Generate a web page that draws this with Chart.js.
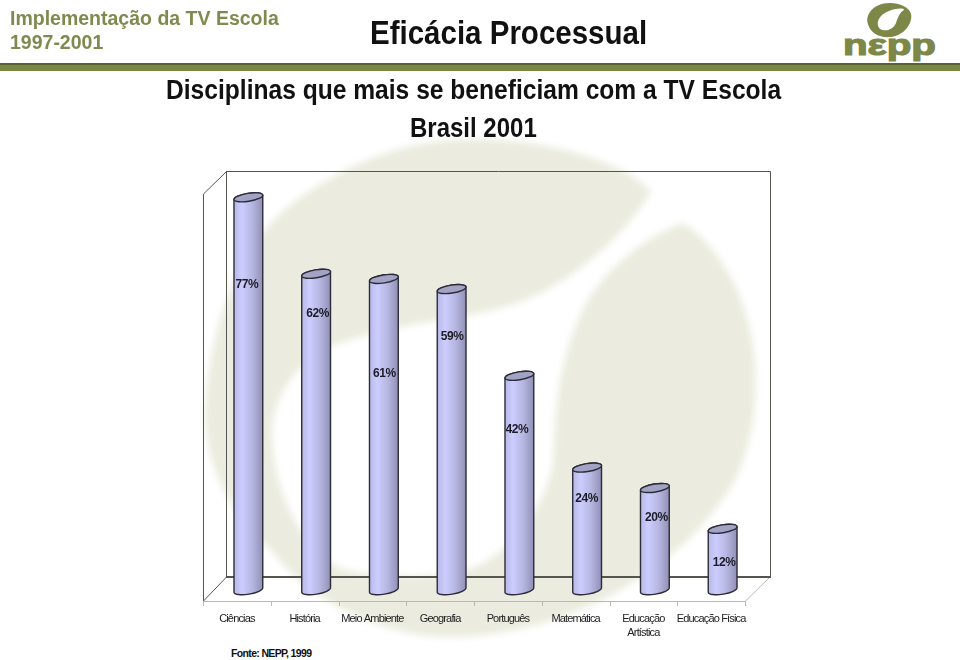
<!DOCTYPE html>
<html lang="pt">
<head>
<meta charset="utf-8">
<title>Eficácia Processual</title>
<script src="https://cdn.jsdelivr.net/npm/chart.js@4"></script>
<style>
html,body{margin:0;padding:0;background:#fff;}
#stage{position:relative;width:960px;height:660px;overflow:hidden;font-family:"Liberation Sans",Arial,sans-serif;}
#stage svg{position:absolute;left:0;top:0;}
#stage canvas{position:absolute;left:0;top:0;}
.t{position:absolute;white-space:nowrap;font-weight:bold;line-height:1;transform-origin:left center;}
.o{color:#7f8a4e;font-size:19.5px;left:10px;transform:scaleY(1.08);}
#rule{position:absolute;left:0;top:63px;width:960px;height:8px;background:#7b8845;border-top:2px solid #59632d;box-sizing:border-box;}
</style>
</head>
<body>
<div id="stage">
<svg width="960" height="660" viewBox="0 0 960 660">
  <defs>
    <filter id="soft" x="-5%" y="-5%" width="110%" height="110%"><feGaussianBlur stdDeviation="3.5"/></filter>
  </defs>
  <path filter="url(#soft)" fill="#ebecdf" d="M651 192 C630 165 555 139 472 139 C410 139 350 160 290 205 C240 245 210 320 205 413 C205 470 235 520 272 551 C300 590 370 637 450 637 C560 637 680 575 735 480 C760 430 765 350 735 285 C720 255 700 232 682 223 C640 240 605 270 585 305 C555 365 555 420 553 465 C540 520 505 555 472 568 C430 580 375 578 339 568 C300 545 272 490 272 430 C275 385 310 350 347 341 C400 322 470 320 517 303 C570 285 625 235 651 192 Z"/>
  <path fill="#7c8748" fill-rule="evenodd" d="M890 3 C872 3 865 16 868 24 C870 33 880 38 890 37 C905 36 913 22 911 14 C909 7 900 3 890 3 Z M889 11 C897 8 904 8 904 10 C900 12 898 17 896 23 C893 30 885 32 880 29 C875 24 878 15 889 11 Z"/>
  <text x="843" y="55" fill="#7c8748" stroke="#7c8748" stroke-width="1.2" font-family="Liberation Sans" font-weight="bold" font-size="30" textLength="93" lengthAdjust="spacingAndGlyphs">nεpp</text>
</svg>
<div class="t o" style="top:8px;">Implementação da TV Escola</div>
<div class="t o" style="top:32px;">1997-2001</div>
<div class="t" style="left:370px;top:18px;font-size:29.5px;color:#111;transform:scaleY(1.1);">Eficácia Processual</div>
<div id="rule"></div>
<div class="t" style="left:166px;top:78px;font-size:24.6px;color:#111;transform:scaleY(1.14);">Disciplinas que mais se beneficiam com a TV Escola</div>
<div class="t" style="left:410px;top:116px;font-size:24px;color:#111;transform:scaleY(1.14);">Brasil 2001</div>
<div class="t" style="left:231px;top:648px;font-size:10.5px;letter-spacing:-.65px;color:#111;">Fonte: NEPP, 1999</div>
<canvas id="c" width="960" height="660"></canvas>
</div>
<script>
const categories = ["Ciências","História","Meio Ambiente","Geografia","Português","Matemática",["Educação","Artística"],"Educação Física"];
const values = [77,62,61,59,42,24,20,12];
const valueLabels = ["77%","62%","61%","59%","42%","24%","20%","12%"];

// label placement relative to each bar top (style only)
const labelDrop = [87,39.5,94.5,48,53.5,31.5,29.5,34];
const labelShift = [-1,2,1,1,-2,0,2,2];

function cylinderDraw(ctx){
  const x=this.x+.5, y=this.y, b=this.base, rx=this.width/2;
  const rot=-9*Math.PI/180, dx=rx*Math.cos(rot), dy=rx*Math.sin(rot);
  const g=ctx.createLinearGradient(x-rx,0,x+rx,0);
  g.addColorStop(0,"#b9b9e6");
  g.addColorStop(.28,"#ccccff");
  g.addColorStop(.62,"#b7b7e2");
  g.addColorStop(1,"#8f8fb6");
  ctx.save();
  ctx.beginPath();
  ctx.moveTo(x-dx,y-dy);
  ctx.lineTo(x-dx,b-dy);
  ctx.ellipse(x,b,rx,4.2,rot,Math.PI,0,true);
  ctx.lineTo(x+dx,y+dy);
  ctx.ellipse(x,y,rx,4,rot,0,Math.PI,true);
  ctx.closePath();
  ctx.fillStyle=g; ctx.fill();
  ctx.strokeStyle="#2c2c38"; ctx.lineWidth=1.4; ctx.stroke();
  ctx.beginPath();
  ctx.ellipse(x,y,rx,4,rot,0,2*Math.PI);
  ctx.fillStyle="#a3a3c6"; ctx.fill(); ctx.stroke();
  ctx.restore();
}

const frame3d = {
  id:"frame3d",
  beforeDraw(chart){ chart.ctx.letterSpacing="-0.85px"; },
  beforeDatasetsDraw(chart){
    const c=chart.ctx, a=chart.chartArea, bw=a.width/8;
    const fl=a.left-11, fr=a.right-11, fb=a.bottom+11, bl=a.left+12, br=a.right+14, bb=a.bottom-13, bt=a.top-11, ft=a.top+12;
    c.save(); c.letterSpacing="0px";
    c.lineCap="butt";
    c.strokeStyle="#b9b9b4"; c.lineWidth=1;
    c.beginPath();
    c.moveTo(fl,fb+.5); c.lineTo(fr,fb+.5); c.lineTo(br,bb);
    for(let i=0;i<=8;i++){ const px=Math.round(fl+i*bw)+.5; c.moveTo(px,fb); c.lineTo(px,fb+5); }
    c.stroke();
    c.strokeStyle="#55554f"; c.lineWidth=1;
    c.beginPath();
    c.moveTo(fl+.5,fb); c.lineTo(fl+.5,ft); c.lineTo(bl+.5,bt+.5); c.lineTo(br+.5,bt+.5); c.lineTo(br+.5,bb);
    c.moveTo(bl+.5,bt); c.lineTo(bl+.5,bb);
    c.moveTo(fl+.5,fb); c.lineTo(bl+.5,bb);
    c.stroke();
    c.lineWidth=2;
    c.beginPath(); c.moveTo(bl,bb); c.lineTo(br+1,bb); c.stroke();
    c.restore();
    chart.getDatasetMeta(0).data.forEach(el=>{ el.draw=cylinderDraw; });
  },
  afterDatasetsDraw(chart){
    const c=chart.ctx;
    c.save();
    c.font='bold 12px "Liberation Sans"';
    c.letterSpacing="-0.5px";
    c.fillStyle="#1c1c28";
    c.textAlign="center"; c.textBaseline="middle";
    chart.getDatasetMeta(0).data.forEach((el,i)=>{
      c.fillText(valueLabels[i],el.x+labelShift[i],el.y+labelDrop[i]);
    });
    c.restore();
  }
};

new Chart(document.getElementById("c"),{
  type:"bar",
  data:{labels:categories,datasets:[{data:values,backgroundColor:"#c4c4f4",borderColor:"#2c2c38",borderWidth:1,barPercentage:.43,categoryPercentage:1,clip:false}]},
  options:{
    responsive:false,animation:false,
    layout:{padding:{left:214,right:204,top:182,bottom:20}},
    plugins:{legend:{display:false},tooltip:{enabled:false},title:{display:false}},
    scales:{
      y:{display:false,min:0,max:80},
      x:{
        afterFit(s){s.height=50;},
        grid:{display:false,drawTicks:false},
        border:{display:false},
        ticks:{autoSkip:false,maxRotation:0,minRotation:0,padding:22,labelOffset:-11,color:"#222",font:{family:'"Liberation Sans"',size:11,lineHeight:1.3}}
      }
    }
  },
  plugins:[frame3d]
});
</script>
</body>
</html>
